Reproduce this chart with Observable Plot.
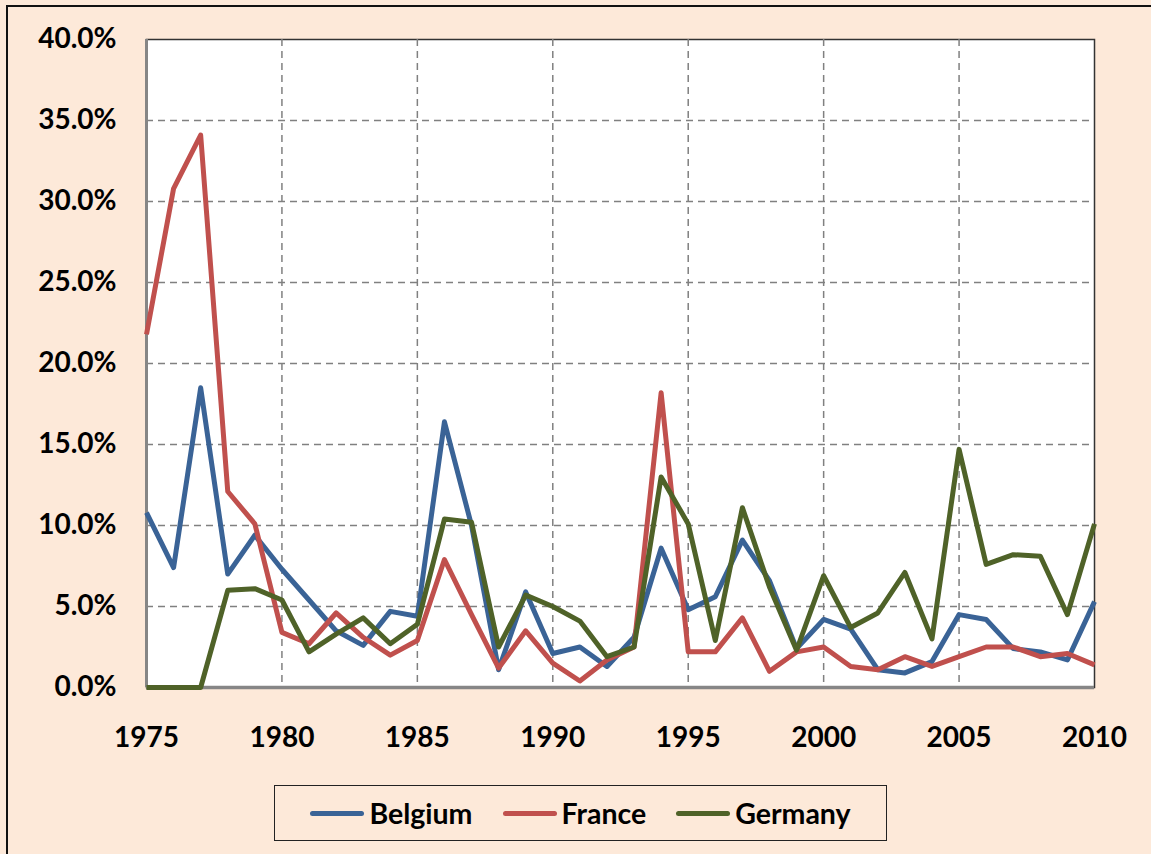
<!DOCTYPE html>
<html>
<head>
<meta charset="utf-8">
<script src="https://cdn.jsdelivr.net/npm/d3@7"></script>
<script src="https://cdn.jsdelivr.net/npm/@observablehq/plot@0.6"></script>
<style>
  html, body { margin: 0; padding: 0; background: #fde9d9; }
  #wrap { position: relative; width: 1151px; height: 854px; background: #fde9d9; overflow: hidden; font-family: Lato, "Open Sans", sans-serif; }
  #border { position: absolute; left: 6px; top: 5px; width: 1145px; height: 849px; border-top: 2.5px solid #111; border-left: 2.5px solid #111; box-sizing: border-box; pointer-events: none; }
  #chart { position: absolute; left: 0; top: 0; }
  #legend { position: absolute; left: 274px; top: 785px; width: 613px; height: 56px; border: 1.5px solid #222; box-sizing: border-box; display: flex; align-items: center; justify-content: center; gap: 30px; font-weight: bold; font-size: 28.5px; color: #000; }
  .item { display: flex; align-items: center; gap: 5px; }
  .sw { width: 54px; height: 5px; border-radius: 3px; }
</style>
</head>
<body>
<div id="wrap">
  <div id="chart"></div>
  <div id="legend"></div>
  <div id="border"></div>
</div>
<script>
const years = d3.range(1975, 2011);
const belgium = [10.8, 7.4, 18.5, 7.0, 9.4, 7.3, 5.4, 3.5, 2.6, 4.7, 4.4, 16.4, 10.0, 1.1, 5.9, 2.1, 2.5, 1.3, 3.1, 8.6, 4.8, 5.6, 9.1, 6.6, 2.4, 4.2, 3.6, 1.1, 0.9, 1.6, 4.5, 4.2, 2.4, 2.2, 1.7, 5.3];
const france = [21.8, 30.8, 34.1, 12.1, 10.1, 3.4, 2.7, 4.6, 3.1, 2.0, 2.9, 7.9, 4.5, 1.2, 3.5, 1.5, 0.4, 1.7, 2.5, 18.2, 2.2, 2.2, 4.3, 1.0, 2.2, 2.5, 1.3, 1.1, 1.9, 1.3, 1.9, 2.5, 2.5, 1.9, 2.1, 1.4];
const germany = [0, 0, 0, 6.0, 6.1, 5.4, 2.2, 3.3, 4.3, 2.7, 3.9, 10.4, 10.2, 2.5, 5.7, 5.0, 4.1, 1.9, 2.5, 13.0, 10.1, 2.9, 11.1, 6.2, 2.3, 6.9, 3.7, 4.6, 7.1, 3.0, 14.7, 7.6, 8.2, 8.1, 4.5, 10.1];
const seriesNames = ["Belgium", "France", "Germany"];
const seriesColors = ["#3a6396", "#c0504d", "#4f6228"];
const yTicks = [0, 5, 10, 15, 20, 25, 30, 35, 40];
const xTicks = [1975, 1980, 1985, 1990, 1995, 2000, 2005, 2010];

const rows = [];
[belgium, france, germany].forEach((arr, i) => {
  arr.forEach((v, j) => rows.push({year: years[j], value: v, series: seriesNames[i]}));
});

const fontFam = "Lato, 'Open Sans', sans-serif";
const chart = Plot.plot({
  width: 1151,
  height: 775,
  marginLeft: 146,
  marginRight: 57,
  marginTop: 39,
  marginBottom: 88,
  style: {background: "transparent", fontFamily: fontFam, fontWeight: "bold", fontSize: "28px", color: "#000"},
  x: {domain: [1975, 2010], ticks: xTicks, tickFormat: d => String(d)},
  y: {domain: [0, 40], ticks: yTicks, tickFormat: d => d.toFixed(1) + "%"},
  color: {domain: seriesNames, range: seriesColors},
  marks: [
    Plot.frame({fill: "white", stroke: "#333", strokeWidth: 1.5}),
    Plot.gridY(yTicks.filter(d => d > 0 && d < 40), {stroke: "#808080", strokeOpacity: 1, strokeWidth: 1.5, strokeDasharray: "7,5"}),
    Plot.gridX(xTicks.filter(d => d > 1975 && d < 2010), {stroke: "#808080", strokeOpacity: 1, strokeWidth: 1.5, strokeDasharray: "7,5"}),
    Plot.axisX({ticks: xTicks, tickSize: 0, tickPadding: 40, tickFormat: d => String(d), label: null, fontSize: 28, fontWeight: "bold"}),
    Plot.axisY({ticks: yTicks, tickSize: 0, tickPadding: 30, tickFormat: d => d.toFixed(1) + "%", label: null, fontSize: 28, fontWeight: "bold"}),
    Plot.ruleX([1975], {stroke: "#868686", strokeWidth: 3}),
    Plot.ruleY([0], {stroke: "#868686", strokeWidth: 3.5}),
    Plot.lineY(rows, {x: "year", y: "value", stroke: "series", strokeWidth: 5, strokeLinejoin: "round", strokeLinecap: "butt"})
  ]
});
document.getElementById("chart").appendChild(chart);

const legend = document.getElementById("legend");
seriesNames.forEach((name, i) => {
  const it = document.createElement("div");
  it.className = "item";
  const sw = document.createElement("div");
  sw.className = "sw";
  sw.style.background = seriesColors[i];
  const t = document.createElement("span");
  t.textContent = name;
  it.appendChild(sw);
  it.appendChild(t);
  legend.appendChild(it);
});
</script>
</body>
</html>
